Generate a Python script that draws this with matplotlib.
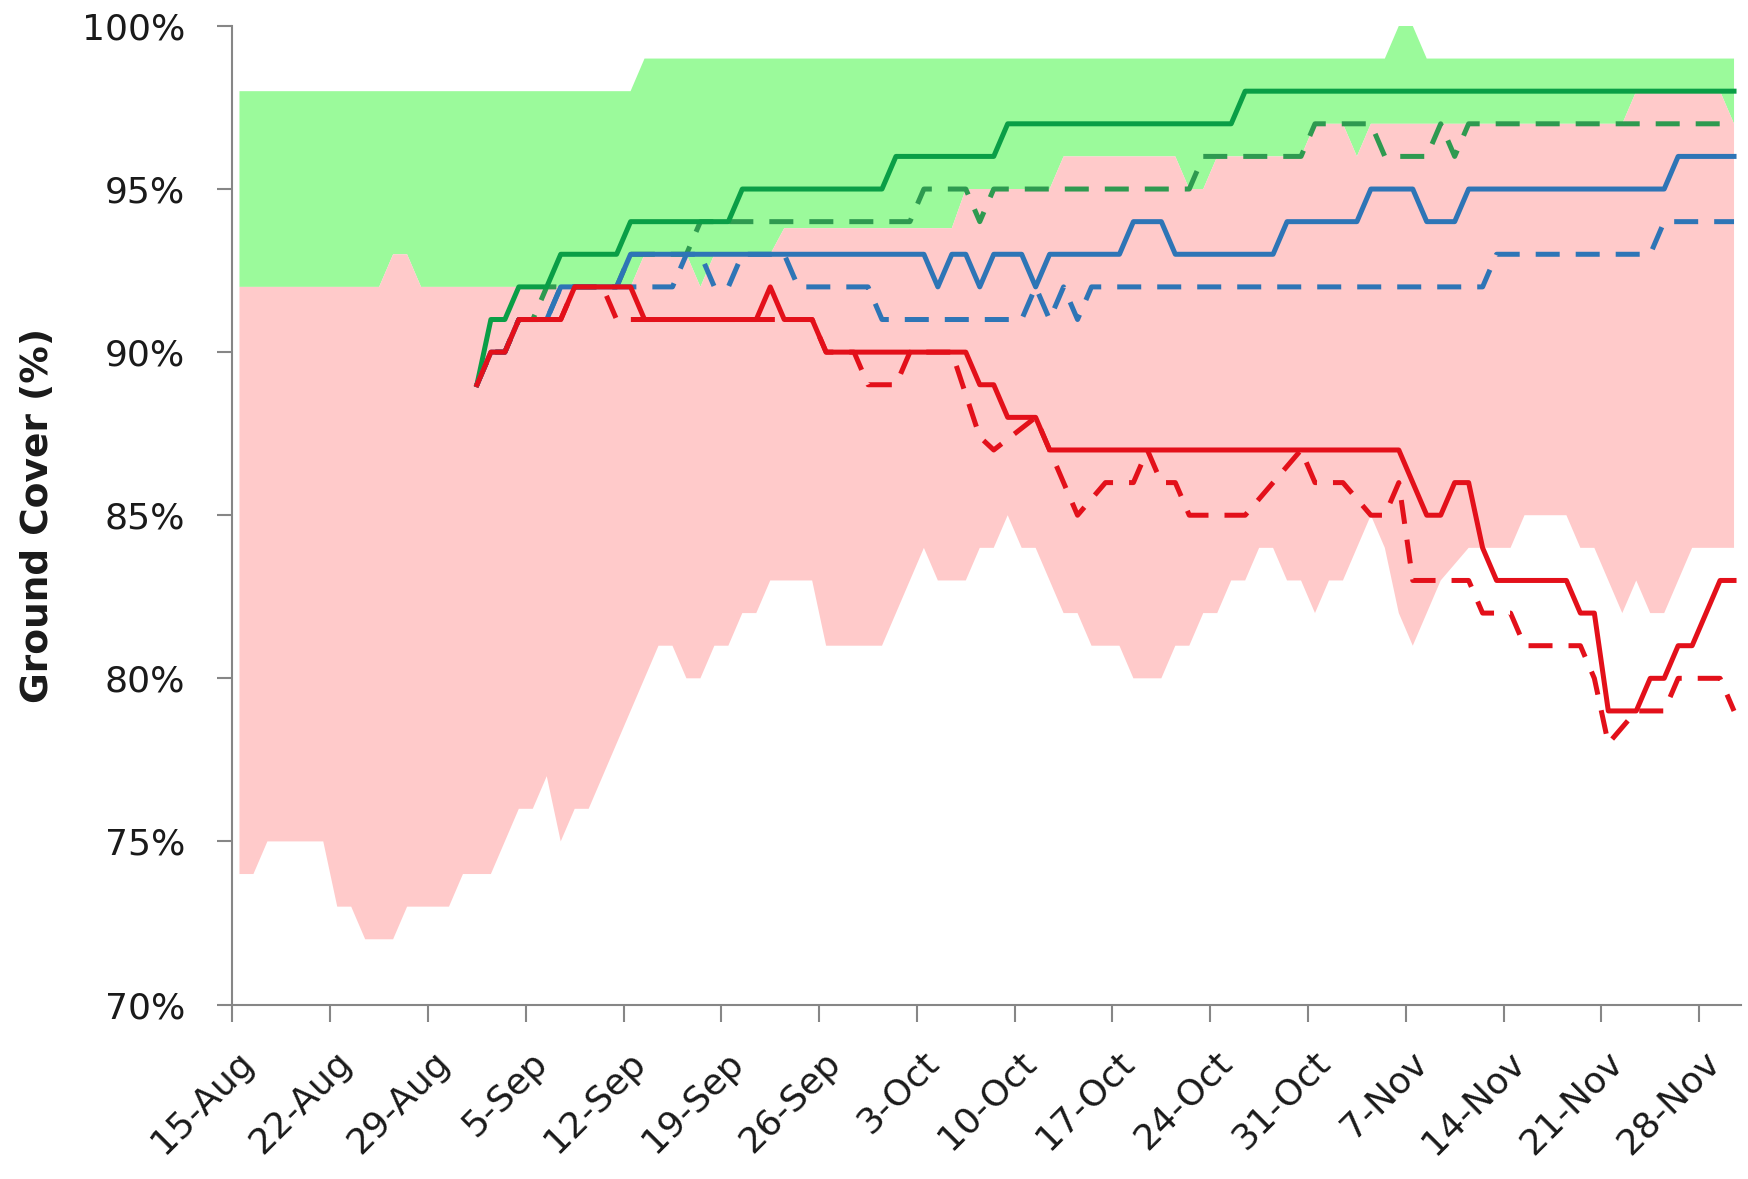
import numpy as np
import matplotlib
matplotlib.use("Agg")
import matplotlib.pyplot as plt
from matplotlib.ticker import PercentFormatter
from matplotlib.transforms import ScaledTranslation

# x values are days counted from 15-Aug (one reading per day)
tick_days = [0, 7, 14, 21, 28, 35, 42, 49, 56, 63, 70, 77, 84, 91, 98, 105]
tick_labels = ["15-Aug", "22-Aug", "29-Aug", "5-Sep", "12-Sep", "19-Sep", "26-Sep",
               "3-Oct", "10-Oct", "17-Oct", "24-Oct", "31-Oct", "7-Nov", "14-Nov",
               "21-Nov", "28-Nov"]

# range bands (breakpoints of the daily series)
green_hi_day = [0, 28, 29, 82, 83, 84, 85, 107]
green_hi_val = [98, 98, 99, 99, 100, 100, 99, 99]

pink_hi_day = [0, 10, 11, 12, 13, 28, 29, 32, 33, 34, 38, 39, 51, 52, 58, 59, 67, 68,
               69, 70, 76, 77, 79, 80, 81, 99, 100, 106, 107]
pink_hi_val = [92, 92, 93, 93, 92, 92, 93, 93, 92, 93, 93, 93.8, 93.8, 95, 95, 96, 96, 95,
               95, 96, 96, 97, 97, 96, 97, 97, 98, 98, 97]

pink_lo_day = [0, 1, 2, 6, 7, 8, 9, 11, 12, 15, 16, 18, 20, 21, 22, 23, 24, 25, 30, 31,
               32, 33, 34, 35, 36, 37, 38, 41, 42, 46, 49, 50, 52, 53, 54, 55, 56, 57,
               59, 60, 61, 63, 64, 66, 67, 68, 69, 70, 71, 72, 73, 74, 75, 76, 77, 78,
               79, 81, 82, 83, 84, 85, 86, 88, 91, 92, 95, 96, 97, 98, 99, 100, 101,
               102, 103, 104, 107]
pink_lo_val = [74, 74, 75, 75, 73, 73, 72, 72, 73, 73, 74, 74, 76, 76, 77, 75, 76, 76, 81, 81,
               80, 80, 81, 81, 82, 82, 83, 83, 81, 81, 84, 83, 83, 84, 84, 85, 84, 84,
               82, 82, 81, 81, 80, 80, 81, 81, 82, 82, 83, 83, 84, 84, 83, 83, 82, 83,
               83, 85, 84, 82, 81, 82, 83, 84, 84, 85, 85, 84, 84, 83, 82, 83, 82,
               82, 83, 84, 84]

# lines
green_solid_day = [17, 18, 19, 20, 22, 23, 27, 28, 35, 36, 46, 47, 54, 55, 71, 72, 107]
green_solid_val = [89, 91, 91, 92, 92, 93, 93, 94, 94, 95, 95, 96, 96, 97, 97, 98, 98]

green_dash_day = [17, 18, 19, 20, 21, 22, 27, 28, 32, 33, 48, 49, 52, 53, 54, 68, 69,
                  76, 77, 81, 82, 85, 86, 87, 88, 107]
green_dash_val = [89, 90, 90, 91, 91, 92, 92, 93, 93, 94, 94, 95, 95, 94, 95, 95, 96,
                  96, 97, 97, 96, 96, 97, 96, 97, 97]

blue_solid_day = [17, 18, 19, 20, 22, 23, 27, 28, 49, 50, 51, 52, 53, 54, 56, 57, 58,
                  63, 64, 66, 67, 74, 75, 80, 81, 84, 85, 87, 88, 102, 103, 107]
blue_solid_val = [89, 90, 90, 91, 91, 92, 92, 93, 93, 92, 93, 93, 92, 93, 93, 92, 93,
                  93, 94, 94, 93, 93, 94, 94, 95, 95, 94, 94, 95, 95, 96, 96]

blue_dash_day = [17, 18, 19, 20, 22, 23, 31, 32, 33, 34, 35, 36, 39, 40, 45, 46, 56,
                 57, 58, 59, 60, 61, 89, 90, 101, 102, 107]
blue_dash_val = [89, 90, 90, 91, 91, 92, 92, 93, 93, 92, 92, 93, 93, 92, 92, 91, 91,
                 92, 91, 92, 91, 92, 92, 93, 93, 94, 94]

red_solid_day = [17, 18, 19, 20, 23, 24, 28, 29, 37, 38, 39, 41, 42, 52, 53, 54, 55, 57,
                 58, 83, 84, 85, 86, 87, 88, 89, 90, 95, 96, 97, 98, 100, 101, 102, 103,
                 104, 106, 107]
red_solid_val = [89, 90, 90, 91, 91, 92, 92, 91, 91, 92, 91, 91, 90, 90, 89, 89, 88, 88,
                 87, 87, 86, 85, 85, 86, 86, 84, 83, 83, 82, 82, 79, 79, 80, 80, 81,
                 81, 83, 83]

red_dash_day = [17, 18, 19, 20, 23, 24, 26, 27, 41, 42, 44, 45, 47, 48, 51, 53, 54, 57,
                58, 60, 62, 64, 65, 66, 67, 68, 72, 76, 77, 79, 81, 82, 83, 84, 88, 89,
                91, 92, 96, 97, 98, 100, 102, 103, 106, 107]
red_dash_val = [89, 90, 90, 91, 91, 92, 92, 91, 91, 90, 90, 89, 89, 90, 90, 87.4, 87, 88,
                87, 85, 86, 86, 87, 86, 86, 85, 85, 87, 86, 86, 85, 85, 86, 83, 83, 82,
                82, 81, 81, 80, 78, 79, 79, 80, 80, 79]


def mid(days):
    # daily readings sit in the middle of their day
    return np.asarray(days, dtype=float) + 0.5


fig = plt.figure(figsize=(17.48, 11.79), dpi=100)
ax = fig.add_axes([0.133, 0.148, 0.863, 0.830])

ax.fill(np.r_[mid(green_hi_day), mid(pink_hi_day)[::-1]],
        np.r_[green_hi_val, pink_hi_val[::-1]], color="#9BFA9B", lw=0, zorder=1)
ax.fill(np.r_[mid(pink_hi_day), mid(pink_lo_day)[::-1]],
        np.r_[pink_hi_val, pink_lo_val[::-1]], color="#FFCACA", lw=0, zorder=2)

green = "#0A9E46"
blue = "#2E75B6"
red = "#E3101A"
lw = 3.6
dash = (4.8, 3.2)

ax.plot(mid(green_dash_day), green_dash_val, color="#2E9A50", lw=lw, dashes=dash, zorder=3)
ax.plot(mid(blue_dash_day), blue_dash_val, color=blue, lw=lw, dashes=dash, zorder=3)
ax.plot(mid(red_dash_day), red_dash_val, color=red, lw=lw, dashes=dash, zorder=3)
ax.plot(mid(green_solid_day), green_solid_val, color=green, lw=lw, zorder=4)
ax.plot(mid(blue_solid_day), blue_solid_val, color=blue, lw=lw, zorder=4)
ax.plot(mid(red_solid_day), red_solid_val, color=red, lw=lw, zorder=4)

ax.set_xlim(0, 108)
ax.set_ylim(70, 100)
ax.set_yticks(range(70, 101, 5))
ax.yaxis.set_major_formatter(PercentFormatter(decimals=0))
ax.set_xticks(tick_days)
ax.set_xticklabels(tick_labels, rotation=45, ha="right", va="center",
                   rotation_mode="anchor")

for s in ["top", "right"]:
    ax.spines[s].set_visible(False)
for s in ["left", "bottom"]:
    ax.spines[s].set_color("#868686")
    ax.spines[s].set_linewidth(1.5)

ax.tick_params(axis="y", direction="out", length=11, width=1.5, color="#868686",
               labelsize=26, pad=23, labelcolor="#1a1a1a")
ax.tick_params(axis="x", direction="out", length=12, width=1.5, color="#868686",
               labelsize=26, pad=26, labelcolor="#1a1a1a")
for lab in ax.get_xticklabels():
    lab.set_transform(lab.get_transform() + ScaledTranslation(0.16, 0, fig.dpi_scale_trans))

ax.set_ylabel("Ground Cover (%)", fontsize=27, fontweight="bold", color="#1a1a1a")
ax.yaxis.set_label_coords(-0.117, 0.5)

fig.savefig("out.png", dpi=100)
